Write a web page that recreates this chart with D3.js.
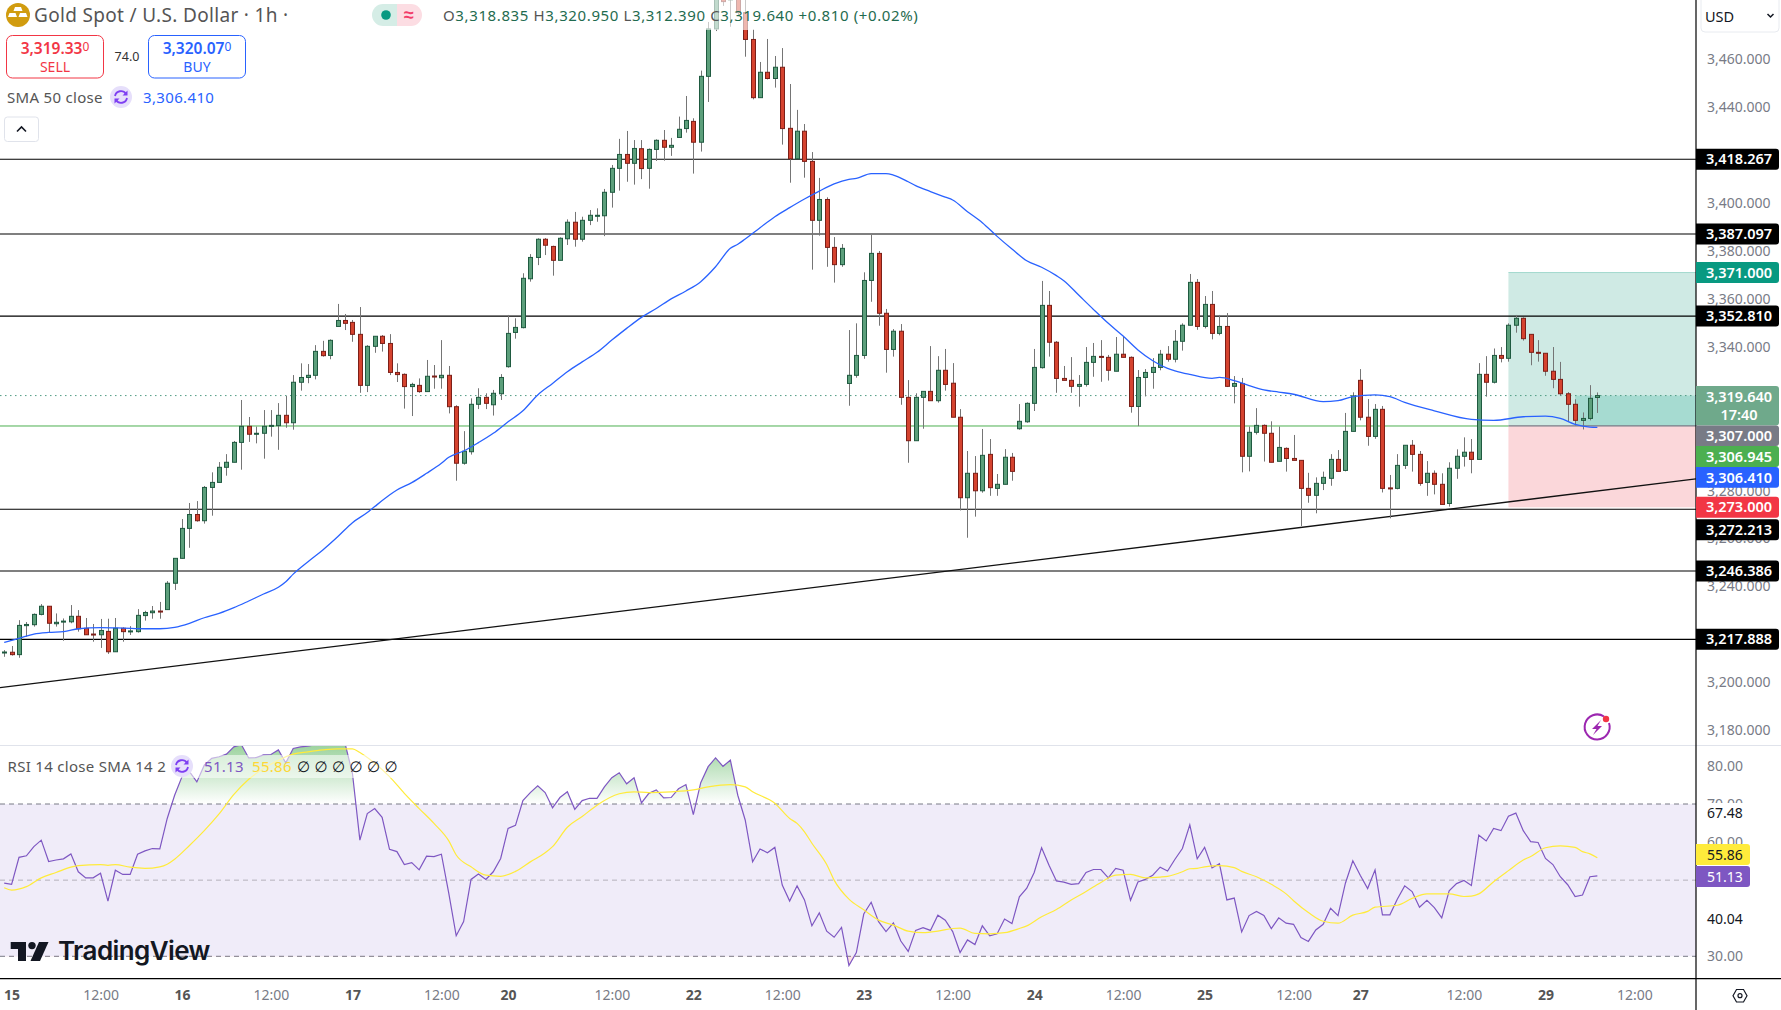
<!DOCTYPE html>
<html>
<head>
<meta charset="utf-8">
<script src="https://cdn.jsdelivr.net/npm/d3@7"></script>
<style>
  html, body { margin: 0; padding: 0; background: #fff; }
  svg { display: block; }
  text { font-family: "Noto Sans", sans-serif; }
</style>
</head>
<body>
<div id="chart"></div>
<script>
// hourly bars
const opens = [
3212.3,3212.5,3211.5,3223.6,3224.0,3228.3,3231.7,3224.4,3225.2,3225.2,
3227.5,3222.5,3220.1,3219.8,3221.2,3212.7,3222.5,3221.1,3221.1,3227.8,
3229.0,3229.7,3230.3,3241.3,3251.7,3264.2,3270.0,3267.4,3281.3,3283.4,
3289.7,3291.8,3300.1,3306.8,3303.5,3303.9,3306.8,3307.1,3311.4,3308.3,
3325.2,3327.2,3328.1,3338.1,3336.4,3348.5,3351.0,3350.2,3345.2,3323.9,
3340.2,3344.4,3341.4,3329.3,3328.5,3323.4,3323.9,3321.3,3327.8,3327.1,
3328.1,3315.0,3291.4,3296.2,3316.0,3318.9,3315.8,3320.4,3331.7,3346.0,
3348.0,3368.4,3377.3,3384.9,3381.9,3376.1,3385.1,3392.0,3384.9,3392.8,
3394.6,3394.7,3404.5,3414.5,3420.3,3416.6,3422.7,3414.5,3422.4,3426.2,
3423.3,3427.4,3431.1,3434.1,3425.4,3452.9,3472.7,3485.6,3484.8,3485.6,
3479.5,3468.3,3444.0,3454.6,3452.0,3456.7,3431.2,3418.5,3430.0,3417.4,
3392.8,3401.5,3381.5,3374.3,3324.7,3328.1,3336.4,3367.7,3379.0,3354.0,
3338.9,3346.5,3318.9,3300.8,3318.9,3321.4,3317.5,3330.2,3324.8,3310.6,
3277.0,3287.2,3279.9,3295.1,3280.9,3282.6,3293.9,3305.8,3308.7,3316.4,
3331.3,3357.3,3341.9,3326.8,3326.0,3323.5,3324.3,3333.5,3336.0,3335.6,
3329.8,3336.9,3335.6,3315.1,3327.2,3329.3,3331.4,3336.9,3334.8,3342.3,
3349.0,3366.9,3348.5,3357.7,3345.6,3348.5,3323.5,3324.7,3294.3,3304.3,
3307.2,3303.9,3292.2,3297.6,3293.4,3292.6,3280.9,3278.0,3283.0,3285.1,
3293.0,3288.4,3304.7,3326.0,3310.6,3302.6,3313.9,3281.1,3280.9,3290.5,
3298.9,3295.1,3283.4,3287.2,3282.6,3274.6,3289.3,3294.3,3296.0,3293.0,
3328.5,3325.2,3336.4,3335.2,3349.0,3351.9,3345.2,3337.7,3337.3,3329.8,
3326.4,3320.4,3316.0,3309.3,3310.1,3318.835];
const highs = [
3213.4,3215.1,3225.9,3225.1,3228.7,3232.6,3231.8,3228.7,3226.6,3232.2,
3230.1,3226.8,3224.3,3226.4,3226.5,3226.8,3222.9,3223.4,3230.5,3229.8,
3231.8,3233.5,3242.2,3251.7,3268.1,3274.8,3275.6,3281.9,3287.6,3291.9,
3295.2,3300.7,3317.8,3310.7,3306.7,3313.6,3313.6,3316.5,3319.5,3328.2,
3333.1,3332.8,3340.7,3342.5,3343.1,3357.9,3353.7,3351.2,3356.6,3340.7,
3344.4,3344.9,3345.3,3333.1,3328.9,3325.0,3326.8,3334.5,3332.4,3342.8,
3332.0,3315.6,3304.8,3318.5,3322.7,3320.6,3322.0,3328.6,3353.3,3351.9,
3370.7,3378.7,3385.3,3385.4,3382.2,3385.7,3393.2,3396.3,3394.3,3397.1,
3397.8,3405.9,3415.9,3426.8,3430.1,3426.3,3426.3,3422.8,3426.6,3430.5,
3427.2,3436.1,3444.7,3435.4,3455.3,3475.6,3489.0,3488.2,3489.0,3487.5,
3484.8,3472.5,3458.9,3468.5,3461.4,3464.7,3449.7,3438.9,3433.0,3421.3,
3410.5,3402.4,3385.8,3382.9,3347.0,3349.8,3371.1,3386.7,3380.0,3355.8,
3347.4,3349.5,3326.1,3320.6,3321.4,3340.3,3336.1,3339.1,3333.2,3314.0,
3296.5,3294.4,3305.7,3301.5,3286.9,3297.3,3295.7,3316.1,3316.8,3339.1,
3367.5,3363.3,3342.4,3332.0,3335.7,3328.2,3339.9,3341.6,3342.8,3336.6,
3344.1,3344.5,3336.0,3330.3,3330.7,3335.3,3338.7,3340.3,3347.0,3349.8,
3370.4,3368.3,3361.2,3363.3,3353.3,3354.1,3327.8,3327.0,3306.7,3314.4,
3307.6,3308.9,3306.7,3298.0,3303.2,3292.6,3287.4,3285.5,3287.9,3295.2,
3296.9,3312.4,3321.0,3330.7,3318.2,3316.1,3315.3,3286.5,3295.2,3298.9,
3301.1,3296.5,3292.3,3288.4,3287.2,3291.8,3297.2,3302.2,3301.5,3333.2,
3336.1,3339.3,3339.9,3349.8,3353.3,3352.3,3345.2,3342.8,3337.3,3339.9,
3333.7,3321.1,3318.1,3312.6,3324.0,3320.95];
const lows = [
3210.6,3211.1,3210.2,3219.0,3223.2,3227.9,3220.9,3223.2,3217.3,3224.6,
3221.1,3219.7,3216.9,3214.3,3211.8,3212.7,3216.9,3219.7,3220.7,3225.7,
3226.5,3226.5,3230.3,3238.5,3251.6,3256.1,3267.0,3266.2,3269.5,3283.4,
3286.2,3291.8,3288.7,3300.3,3299.7,3293.3,3302.5,3297.0,3306.2,3305.4,
3321.7,3324.8,3326.4,3335.9,3334.8,3348.5,3347.0,3342.1,3320.8,3321.1,
3337.5,3338.0,3328.2,3325.3,3314.2,3311.1,3320.8,3321.3,3322.5,3322.5,
3312.2,3284.1,3290.8,3295.0,3314.0,3314.0,3311.3,3317.8,3331.3,3343.4,
3347.7,3367.2,3374.1,3378.3,3369.7,3376.1,3382.5,3381.8,3383.9,3390.8,
3392.2,3386.2,3398.1,3405.2,3408.9,3407.7,3410.0,3406.0,3417.6,3417.7,
3419.7,3427.4,3429.4,3412.3,3421.5,3442.2,3471.8,3482.3,3473.6,3478.5,
3461.1,3443.3,3444.0,3451.6,3448.2,3424.4,3408.5,3418.5,3410.6,3372.2,
3386.4,3373.4,3366.8,3373.4,3315.4,3327.1,3335.0,3358.8,3348.8,3329.2,
3335.9,3315.8,3291.6,3300.8,3305.8,3317.5,3316.7,3321.7,3310.6,3271.7,
3260.3,3269.1,3279.1,3277.8,3277.8,3282.6,3284.1,3305.4,3308.3,3313.2,
3330.9,3335.9,3320.8,3326.0,3320.8,3315.0,3323.4,3327.5,3325.4,3325.9,
3329.8,3335.6,3312.5,3306.9,3319.3,3322.5,3330.2,3333.8,3333.5,3338.4,
3349.0,3347.1,3347.7,3343.1,3344.8,3323.2,3316.4,3287.6,3288.0,3303.4,
3292.1,3291.8,3292.2,3287.9,3292.6,3265.2,3274.9,3270.5,3280.2,3282.0,
3288.0,3288.0,3304.7,3309.3,3298.7,3301.6,3279.2,3268.4,3280.5,3289.0,
3287.9,3282.0,3277.8,3278.4,3274.2,3273.3,3284.9,3290.0,3287.2,3293.0,
3319.2,3324.7,3333.5,3333.8,3345.9,3342.6,3332.3,3333.8,3327.9,3322.7,
3319.6,3308.6,3307.2,3305.5,3309.3,3312.39];
const closes = [
3212.6,3211.5,3223.7,3224.1,3228.3,3231.7,3224.6,3225.0,3225.5,3227.5,
3222.3,3219.8,3219.8,3221.6,3212.7,3222.5,3221.1,3221.4,3227.9,3229.1,
3229.7,3229.4,3241.3,3251.7,3264.2,3270.0,3267.4,3281.3,3283.4,3289.7,
3291.8,3300.1,3306.8,3303.5,3303.9,3306.8,3307.2,3311.4,3308.3,3325.2,
3327.2,3328.1,3338.1,3336.3,3342.7,3351.0,3349.8,3345.2,3323.9,3340.2,
3344.4,3341.4,3329.3,3328.4,3323.4,3324.3,3321.3,3327.7,3327.5,3328.1,
3315.0,3291.4,3296.4,3316.0,3318.9,3316.4,3320.6,3327.2,3345.6,3348.1,
3368.6,3377.3,3384.9,3382.4,3376.1,3385.3,3392.0,3384.9,3392.8,3394.9,
3394.9,3404.5,3414.5,3420.3,3416.6,3422.8,3414.4,3422.4,3426.2,3423.3,
3424.1,3430.8,3434.5,3425.4,3452.9,3472.7,3486.9,3484.1,3485.5,3479.5,
3468.3,3444.0,3454.6,3452.0,3456.7,3431.1,3418.5,3430.0,3417.4,3392.8,
3401.5,3381.5,3374.3,3381.1,3328.1,3336.4,3367.7,3379.0,3354.0,3338.9,
3346.5,3318.9,3300.8,3318.9,3321.4,3317.5,3330.2,3324.3,3310.6,3277.0,
3287.2,3279.9,3294.7,3281.2,3282.6,3293.9,3288.0,3308.9,3316.4,3331.4,
3357.3,3341.9,3326.8,3326.0,3323.5,3324.3,3333.5,3336.0,3335.9,3330.2,
3336.9,3335.6,3315.1,3327.2,3329.3,3331.4,3336.9,3334.8,3342.3,3349.0,
3366.9,3348.5,3357.7,3345.6,3348.5,3323.5,3324.7,3294.3,3304.3,3307.2,
3303.9,3291.8,3298.0,3293.4,3292.6,3280.9,3278.0,3283.0,3285.5,3293.0,
3288.0,3304.7,3319.5,3310.6,3302.6,3313.9,3280.9,3280.8,3290.5,3298.9,
3295.1,3283.0,3287.2,3282.6,3274.2,3289.3,3294.3,3296.0,3293.0,3328.5,
3325.2,3336.4,3335.2,3349.0,3351.9,3343.4,3337.7,3337.5,3329.8,3326.4,
3320.4,3316.0,3309.3,3310.1,3318.5,3319.64];

// SMA 50, read at these bars
const smaBars = [0,2,4,6,8,10,13,16,19,21,23,25,27,29,31,33,35,37,38,39,41,43,45,47,49,50,52,53,55,57,59,60,62,64,66,68,70,72,74,76,
78,80,82,84,86,88,90,92,94,96,98,99,100,102,104,106,108,110,112,114,115,117,119,120,122,123,125,127,128,130,132,134,136,138,140,142,143,145,147,149,151,153,155,157,158,
160,163,164,166,168,170,172,174,178,180,182,185,187,189,193,198,201,205,208,210,212,214,215];
const smaVals = [3216.6,3218.3,3220.1,3220.8,3221.1,3222.3,3222.8,3222.6,3222.3,3222.3,3222.9,3224.6,3226.9,3228.7,3231.1,3233.9,3236.8,3239.6,3241.9,3245.1,3250.3,3255.2,3260.7,3266.6,3270.8,3273.3,3278.1,3280.2,3283.3,3287.2,3291.4,3293.9,3296.5,3300.0,3303.9,3308.7,3313.3,3319.9,3324.7,3329.6,
3333.7,3337.7,3342.8,3347.7,3352.3,3356.0,3360.0,3363.3,3367.2,3373.4,3381.1,3382.8,3385.0,3389.7,3394.3,3398.1,3401.7,3405.0,3408.0,3409.9,3410.3,3412.3,3412.3,3411.7,3408.9,3407.3,3404.8,3402.5,3401.3,3396.4,3391.8,3386.1,3380.8,3375.9,3373.2,3369.7,3367.6,3361.6,3355.6,3349.8,3344.5,3338.7,3334.2,3331.0,3330.0,
3328.5,3326.8,3327.2,3325.9,3323.8,3322.0,3321.1,3320.2,3317.1,3317.5,3319.2,3319.9,3319.2,3316.8,3313.3,3309.7,3309.3,3310.8,3311.1,3310.1,3307.6,3306.5,3306.41];

// RSI 14, one value per bar
const rsiVals = [
49.2,48.9,56.0,56.4,58.8,60.5,54.9,55.3,55.6,56.9,
52.2,50.6,50.6,51.8,44.5,52.6,51.5,51.5,56.8,57.7,
58.3,58.2,66.2,72.3,77.2,78.5,75.8,80.2,82.0,82.4,
83.1,85.0,85.6,82.1,82.2,82.9,83.0,84.2,80.8,84.6,
85.0,85.2,85.6,86.2,86.8,86.4,85.9,78.0,60.5,67.5,
68.8,66.5,58.1,57.5,54.1,54.6,52.7,56.3,56.2,56.8,
46.5,35.4,39.1,50.2,51.6,50.2,52.2,55.7,63.6,64.4,
70.9,73.0,74.8,73.0,69.0,71.7,73.2,68.6,70.9,71.5,
71.5,74.5,76.9,78.2,75.3,76.9,70.3,72.8,73.7,71.6,
71.7,74.0,75.1,67.2,75.6,79.8,82.1,79.9,81.5,72.3,
65.8,54.8,58.2,57.2,58.6,48.7,44.5,48.5,44.8,38.0,
41.4,36.6,35.0,37.6,27.6,31.0,41.1,44.2,39.1,36.5,
38.8,34.0,31.3,36.8,37.5,36.8,40.8,39.5,36.5,31.0,
34.3,33.1,38.0,35.4,35.9,39.8,38.6,45.6,47.9,52.0,
58.5,53.9,49.8,49.5,48.9,49.1,52.0,52.8,52.8,50.6,
53.1,52.6,44.7,49.5,50.2,51.3,53.4,52.4,55.5,58.3,
64.5,55.6,58.6,53.2,54.3,44.8,45.3,36.4,40.7,41.8,
40.7,37.3,40.1,38.7,38.4,34.9,33.9,36.9,38.4,42.6,
40.7,49.2,55.1,51.3,47.8,52.7,40.9,40.9,45.0,48.5,
47.0,42.9,44.7,42.8,40.1,47.2,49.1,49.9,48.6,61.8,
60.3,63.6,63.0,66.8,67.6,63.0,60.1,59.9,55.7,54.1,
50.9,48.8,45.7,46.1,50.9,51.13];

// SMA of RSI, read at these bars
const rsiSmaBars = [0,1,3,5,7,9,10,13,14,15,17,19,21,22,23,25,27,29,31,33,35,37,39,41,43,45,47,48,50,52,54,56,58,60,61,63,65,67,69,71,73,74,76,78,80,
83,85,87,90,93,95,98,100,101,104,106,107,108,109,111,112,114,116,118,120,122,124,126,128,129,131,133,135,137,138,140,142,144,146,148,150,152,154,156,157,159,160,
161,162,164,166,167,169,171,173,174,176,178,180,182,184,185,188,190,192,195,197,198,199,201,203,205,206,208,210,212,213,214,215];
const rsiSmaVals = [48.0,47.4,48.3,50.6,52.0,53.4,53.8,54.1,53.9,54.1,53.4,53.1,53.5,54.2,55.5,59.1,63.0,67.4,72.5,76.5,79.3,81.5,83.1,83.7,84.2,84.5,84.5,83.5,80.7,77.2,72.8,68.8,64.9,60.3,56.6,53.5,51.3,51.0,52.3,54.8,57.2,58.8,63.9,66.7,69.7,
72.7,73.2,73.0,73.2,73.7,74.5,75.1,74.5,73.2,70.2,66.2,64.9,62.7,59.7,54.1,50.0,45.0,42.2,39.5,38.2,36.6,36.2,36.6,37.3,37.4,36.0,35.9,36.2,37.3,38.0,40.4,42.3,44.8,47.0,49.4,51.3,51.5,50.6,50.8,51.0,52.2,53.0,
53.1,53.5,53.8,53.3,52.3,50.9,48.9,46.4,44.6,41.5,39.2,38.7,40.8,41.8,42.9,43.4,45.2,46.4,46.4,45.7,45.8,46.4,49.6,52.5,55.3,56.2,58.5,59.0,58.6,57.5,56.9,55.86];

// 3,420 3,320 3,300 and 3,220 are fully under badges in the picture, so they are left out
const priceTicks = [3460,3440,3400,3380,3360,3340,3280,3260,3240,3200,3180];
const levelLines = [3418.267,3387.097,3352.81,3272.213,3246.386,3217.888];
const trendBars = [-0.57,228.3];
const trendPrices = [3197.7,3284.9];
const positionPrices = [3371,3307,3273];
const positionBars = [203,212];
const lastPrice = 3319.64;
const smaLast = 3306.41;
const avgEntry = 3306.945;

const rsiTicks = [80,70,60,30];
const rsiMarks = [67.48,40.04];
const rsiBands = [70,50,30];

const timeTickBars = [1,13,24,36,47,59,68,82,93,105,116,128,139,151,162,174,183,197,208,220];
const timeTickLabels = ["15","12:00","16","12:00","17","12:00","20","12:00","22","12:00","23","12:00","24","12:00","25","12:00","27","12:00","29","12:00"];

const W = 1781, H = 1010;
const axisX = 1696, paneSplit = 745.5, timeY = 978.7;

const svg = d3.select("#chart").append("svg").attr("width", W).attr("height", H);
const defs = svg.append("defs");

const x = d3.scaleLinear().domain([0, 215]).range([4.2, 1597.35]);
const y = d3.scaleLinear().domain([3484.77, 3180]).range([0, 730.1]);
const rsiY = d3.scaleLinear().domain([30, 70]).range([956.3, 804]);

defs.append("clipPath").attr("id", "mainClip").append("rect").attr("width", axisX).attr("height", paneSplit);
defs.append("clipPath").attr("id", "rsiClip").append("rect").attr("y", paneSplit).attr("width", axisX).attr("height", timeY - paneSplit);
defs.append("clipPath").attr("id", "obClip").append("rect").attr("y", paneSplit).attr("width", axisX).attr("height", rsiY(70) - paneSplit);
defs.append("clipPath").attr("id", "osClip").append("rect").attr("y", rsiY(30)).attr("width", axisX).attr("height", timeY - rsiY(30));

const obGrad = defs.append("linearGradient").attr("id", "obGrad").attr("gradientUnits", "userSpaceOnUse")
    .attr("x1", 0).attr("x2", 0).attr("y1", paneSplit).attr("y2", rsiY(70));
obGrad.append("stop").attr("offset", 0).attr("stop-color", "#4caf50").attr("stop-opacity", 0.55);
obGrad.append("stop").attr("offset", 1).attr("stop-color", "#4caf50").attr("stop-opacity", 0);

const main = svg.append("g").attr("clip-path", "url(#mainClip)");

// long position box
const posLeft = x(positionBars[0]);
main.append("rect").attr("x", posLeft).attr("y", y(positionPrices[0])).attr("width", axisX - posLeft)
    .attr("height", y(positionPrices[1]) - y(positionPrices[0])).attr("fill", "#cfeae4");
main.append("rect").attr("x", posLeft).attr("y", y(positionPrices[1])).attr("width", axisX - posLeft)
    .attr("height", y(positionPrices[2]) - y(positionPrices[1])).attr("fill", "#fbd7da");
main.append("rect").attr("x", x(positionBars[1])).attr("y", y(lastPrice)).attr("width", axisX - x(positionBars[1]))
    .attr("height", y(positionPrices[1]) - y(lastPrice)).attr("fill", "#a6dbd1");
main.append("line").attr("x1", posLeft).attr("x2", axisX).attr("y1", y(positionPrices[0])).attr("y2", y(positionPrices[0]))
    .attr("stroke", "#a3d9ce");

// level lines
main.selectAll(".level").data(levelLines).enter().append("line")
    .attr("x1", 0).attr("x2", axisX)
    .attr("y1", function(d) { return y(d); })
    .attr("y2", function(d) { return y(d); })
    .attr("stroke", "#000").attr("stroke-width", 1.1);
main.append("line").attr("x1", 0).attr("x2", posLeft).attr("y1", y(avgEntry)).attr("y2", y(avgEntry))
    .attr("stroke", "#4caf50").attr("stroke-width", 1);
main.append("line").attr("x1", posLeft).attr("x2", axisX).attr("y1", y(positionPrices[1])).attr("y2", y(positionPrices[1]))
    .attr("stroke", "#787b86").attr("stroke-width", 1.2);
main.append("line").attr("x1", 0).attr("x2", axisX).attr("y1", y(lastPrice)).attr("y2", y(lastPrice))
    .attr("stroke", "#4f9c83").attr("stroke-width", 1).attr("stroke-dasharray", "1.5 3.5");

// trend line
main.append("line").attr("x1", x(trendBars[0])).attr("x2", x(trendBars[1]))
    .attr("y1", y(trendPrices[0])).attr("y2", y(trendPrices[1]))
    .attr("stroke", "#111").attr("stroke-width", 1.3);

// candles
const bars = d3.range(opens.length);
const candle = main.selectAll(".candle").data(bars).enter().append("g");
candle.append("line")
    .attr("x1", function(i) { return Math.round(x(i)) + 0.5; })
    .attr("x2", function(i) { return Math.round(x(i)) + 0.5; })
    .attr("y1", function(i) { return y(highs[i]); })
    .attr("y2", function(i) { return y(lows[i]); })
    .attr("stroke", "#757575").attr("stroke-width", 1);
candle.append("rect")
    .attr("x", function(i) { return Math.round(x(i)) - 1.5; })
    .attr("width", 4)
    .attr("y", function(i) { return y(Math.max(opens[i], closes[i])); })
    .attr("height", function(i) { return Math.max(1, Math.abs(y(opens[i]) - y(closes[i]))); })
    .attr("fill", function(i) { return closes[i] >= opens[i] ? "#5c9f7b" : "#d5432f"; })
    .attr("stroke", function(i) { return closes[i] >= opens[i] ? "#1f5a40" : "#7c1f18"; })
    .attr("stroke-width", 1);

// SMA 50
main.append("path")
    .attr("d", d3.line().x(function(d) { return x(d); })
        .y(function(d, i) { return y(smaVals[i]); })
        .curve(d3.curveMonotoneX)(smaBars))
    .attr("fill", "none").attr("stroke", "#2962ff").attr("stroke-width", 1.3);

// translucent legend strip
svg.append("rect").attr("x", 0).attr("y", 0).attr("width", 930).attr("height", 30).attr("fill", "#fff").attr("opacity", 0.62);

// RSI pane
const rsiPane = svg.append("g").attr("clip-path", "url(#rsiClip)");
rsiPane.append("rect").attr("x", 0).attr("width", axisX).attr("y", rsiY(70)).attr("height", rsiY(30) - rsiY(70)).attr("fill", "#f0ecf9");
rsiPane.selectAll(".band").data(rsiBands).enter().append("line")
    .attr("x1", 0).attr("x2", axisX)
    .attr("y1", function(d) { return rsiY(d); })
    .attr("y2", function(d) { return rsiY(d); })
    .attr("stroke", function(d) { return d === 50 ? "#b4b1bb" : "#787b86"; })
    .attr("stroke-width", 1).attr("stroke-dasharray", "5 4");

const obArea = d3.area().x(function(i) { return x(i); }).y0(rsiY(70)).y1(function(i) { return rsiY(rsiVals[i]); });
rsiPane.append("path").attr("clip-path", "url(#obClip)").attr("d", obArea(bars)).attr("fill", "url(#obGrad)");
rsiPane.append("path").attr("clip-path", "url(#osClip)")
    .attr("d", d3.area().x(function(i) { return x(i); }).y0(rsiY(30)).y1(function(i) { return rsiY(rsiVals[i]); })(bars))
    .attr("fill", "#f23645").attr("opacity", 0.15);

rsiPane.append("path")
    .attr("d", d3.line().x(function(i) { return x(i); }).y(function(i) { return rsiY(rsiVals[i]); })(bars))
    .attr("fill", "none").attr("stroke", "#7e57c2").attr("stroke-width", 1.2);
rsiPane.append("path")
    .attr("d", d3.line().x(function(d) { return x(d); }).y(function(d, i) { return rsiY(rsiSmaVals[i]); })
        .curve(d3.curveMonotoneX)(rsiSmaBars))
    .attr("fill", "none").attr("stroke", "#ffeb3b").attr("stroke-width", 1.2);

svg.append("rect").attr("x", 0).attr("y", 755).attr("width", 400).attr("height", 23).attr("fill", "#fff").attr("opacity", 0.55);

// TradingView mark
const logo = svg.append("g").attr("fill", "#131722");
logo.append("path").attr("d", "M10.7 942H26V961H18V949H10.7Z");
logo.append("circle").attr("cx", 32).attr("cy", 945.6).attr("r", 3.7);
logo.append("path").attr("d", "M39 942H48.5L40 961H30.5Z");
logo.append("text").attr("x", 58).attr("y", 960).attr("font-size", 26).attr("font-weight", 600)
    .style("font-family", "Inter").style("letter-spacing", "-0.6px").text("TradingView");

// price axis
const priceAxis = svg.append("g").attr("transform", "translate(" + (axisX + 11) + ",0)")
    .call(d3.axisRight(y).tickValues(priceTicks).tickFormat(d3.format(",.3f")).tickSize(0).tickPadding(0));
priceAxis.select(".domain").remove();
priceAxis.selectAll("text").attr("font-size", 14).attr("fill", "#787b86").style("font-family", "Noto Sans");

// rsi axis
const rsiAxis = svg.append("g").attr("transform", "translate(1725,0)")
    .call(d3.axisRight(rsiY).tickValues(rsiTicks).tickFormat(d3.format(".2f")).tickSize(0).tickPadding(0));
rsiAxis.select(".domain").remove();
rsiAxis.selectAll("text").attr("font-size", 14).attr("fill", "#787b86").attr("text-anchor", "middle").style("font-family", "Noto Sans");

// time axis
const timeAxis = svg.append("g").attr("transform", "translate(0," + timeY + ")")
    .call(d3.axisBottom(x).tickValues(timeTickBars).tickFormat(function(d, i) { return timeTickLabels[i]; }).tickSize(0).tickPadding(11));
timeAxis.select(".domain").remove();
timeAxis.selectAll("text").attr("font-size", 14).style("font-family", "Noto Sans")
    .attr("font-weight", function(d, i) { return timeTickLabels[i] === "12:00" ? 400 : 700; })
    .attr("fill", function(d, i) { return timeTickLabels[i] === "12:00" ? "#787b86" : "#555"; });

// frame lines
svg.append("line").attr("x1", 0).attr("x2", W).attr("y1", paneSplit).attr("y2", paneSplit).attr("stroke", "#e0e3eb").attr("stroke-width", 1);
svg.append("line").attr("x1", 0).attr("x2", W).attr("y1", timeY).attr("y2", timeY).attr("stroke", "#000").attr("stroke-width", 1.2);
svg.append("line").attr("x1", axisX).attr("x2", axisX).attr("y1", 0).attr("y2", H).attr("stroke", "#000").attr("stroke-width", 1.2);

// price badges
function badge(top, h, lines, fill) {
    svg.append("path").attr("d", "M" + axisX + " " + top + "H1776a3 3 0 0 1 3 3V" + (top + h - 3) + "a3 3 0 0 1 -3 3H" + axisX + "Z").attr("fill", fill);
    lines.forEach(function(t, i) {
        svg.append("text").attr("x", 1739).attr("y", top + 15.5 + i * 18).attr("text-anchor", "middle")
            .attr("font-size", 14.5).attr("font-weight", 600).attr("fill", "#fff").text(t);
    });
}
function atPrice(price, fill) {
    badge(y(price) - 10.5, 21, [d3.format(",.3f")(price)], fill);
}
[3418.267,3387.097,3352.81,3246.386,3217.888].forEach(function(d) { atPrice(d, "#000"); });
atPrice(positionPrices[0], "#089981");
atPrice(positionPrices[2], "#f23645");
// the rest are pushed down into a stack so they do not cover each other
badge(386, 39.5, ["3,319.640", "17:40"], "#6fa98b");
badge(425.5, 20.5, ["3,307.000"], "#787b86");
badge(446, 21, ["3,306.945"], "#4caf50");
badge(467, 20.7, [d3.format(",.3f")(smaLast)], "#2962ff");
badge(519.3, 21, ["3,272.213"], "#000");

// rsi badges
function rsiBadge(top, label, fill, color) {
    svg.append("path").attr("d", "M" + axisX + " " + top + "H1747a3 3 0 0 1 3 3V" + (top + 18) + "a3 3 0 0 1 -3 3H" + axisX + "Z").attr("fill", fill);
    svg.append("text").attr("x", 1725).attr("y", top + 15.5).attr("text-anchor", "middle").attr("font-size", 14).attr("fill", color).text(label);
}
rsiBadge(844, "55.86", "#ffeb3b", "#131722");
rsiBadge(866, "51.13", "#7e57c2", "#fff");
rsiMarks.forEach(function(d) {
    const cy = d === 67.48 ? 813 : 919;
    svg.append("rect").attr("x", axisX + 1).attr("y", cy - 10).attr("width", 60).attr("height", 20).attr("fill", "#fff");
    svg.append("text").attr("x", 1725).attr("y", cy + 5).attr("text-anchor", "middle").attr("font-size", 14).attr("fill", "#131722").text(d.toFixed(2));
});

// top left legend
const legend = svg.append("g");
legend.append("circle").attr("cx", 18).attr("cy", 15).attr("r", 12).attr("fill", "#d19c0f");
legend.append("path").attr("d", "M15 7h6l1.5 4h-9ZM9.5 13h6l1.5 4H8ZM20 13h6l1.5 4H18.500Z").attr("fill", "#fff");
legend.append("text").attr("x", 34).attr("y", 22).attr("font-size", 19).attr("fill", "#555").style("letter-spacing", "0.33px").text("Gold Spot / U.S. Dollar · 1h ·");

legend.append("path").attr("d", "M397 4H383a11 11 0 0 0 0 22H397Z").attr("fill", "#d5ede6");
legend.append("path").attr("d", "M397 4H411a11 11 0 0 1 0 22H397Z").attr("fill", "#fcdde3");
legend.append("circle").attr("cx", 386).attr("cy", 15).attr("r", 4.8).attr("fill", "#089981");
legend.append("text").attr("x", 409).attr("y", 21).attr("text-anchor", "middle").attr("font-size", 18).attr("font-weight", 700).attr("fill", "#f23d6a").text("≈");

const ohlc = legend.append("text").attr("x", 443).attr("y", 20.5).attr("font-size", 15).style("letter-spacing", "0.62px");
[["O","3,318.835"],["H","3,320.950"],["L","3,312.390"],["C","3,319.640"]].forEach(function(p, i) {
    ohlc.append("tspan").attr("fill", "#555").text((i ? " " : "") + p[0]);
    ohlc.append("tspan").attr("fill", "#1f6b4f").text(p[1]);
});
ohlc.append("tspan").attr("fill", "#1f6b4f").text(" +0.810 (+0.02%)");

function quoteBox(x0, priceText, sub, word, color) {
    legend.append("rect").attr("x", x0).attr("y", 35.5).attr("width", 97).attr("height", 42.5).attr("rx", 6)
        .attr("fill", "#fff").attr("stroke", color).attr("stroke-width", 1);
    const t = legend.append("text").attr("x", x0 + 48.5).attr("y", 54).attr("text-anchor", "middle").attr("font-size", 15.5).attr("font-weight", 600).attr("fill", color);
    t.append("tspan").text(priceText);
    t.append("tspan").attr("font-size", 12).attr("font-weight", 400).attr("dy", -3).text(sub);
    legend.append("text").attr("x", x0 + 48.5).attr("y", 71.5).attr("text-anchor", "middle").attr("font-size", 14).attr("fill", color).text(word);
}
quoteBox(6.5, "3,319.33", "0", "SELL", "#f23645");
quoteBox(148.5, "3,320.07", "0", "BUY", "#2962ff");
legend.append("text").attr("x", 127).attr("y", 60.5).attr("text-anchor", "middle").attr("font-size", 12.5).attr("fill", "#333").text("74.0");

function syncIcon(cx, cy) {
    const g = legend.append("g").attr("transform", "translate(" + cx + "," + cy + ")");
    g.append("circle").attr("r", 11).attr("fill", "#e6dffb");
    g.append("path").attr("d", "M-6 -1A6 6 0 0 1 5 -3M6 1A6 6 0 0 1 -5 3").attr("fill", "none").attr("stroke", "#7e3ff2").attr("stroke-width", 1.8);
    g.append("path").attr("d", "M6.500 -6.500V-1.500H1.500ZM-6.500 6.500V1.500H-1.500Z").attr("fill", "#7e3ff2");
}
legend.append("text").attr("x", 7).attr("y", 102.5).attr("font-size", 15).style("letter-spacing", "0.3px").attr("fill", "#555").text("SMA 50 close");
syncIcon(121, 97);
legend.append("text").attr("x", 143).attr("y", 102.5).attr("font-size", 15).style("letter-spacing", "0.35px").attr("fill", "#2962ff").text("3,306.410");

legend.append("rect").attr("x", 4.5).attr("y", 117).attr("width", 34).attr("height", 24.5).attr("rx", 3).attr("fill", "#fff").attr("stroke", "#e0e3eb");
legend.append("path").attr("d", "M17 131.500L21.500 127L26 131.500").attr("fill", "none").attr("stroke", "#131722").attr("stroke-width", 1.6);

// rsi legend
legend.append("text").attr("x", 7.5).attr("y", 771.5).attr("font-size", 15).style("letter-spacing", "0.3px").attr("fill", "#555").text("RSI 14 close SMA 14 2");
syncIcon(182, 766);
legend.append("text").attr("x", 204).attr("y", 771.5).attr("font-size", 15).style("letter-spacing", "0.3px").attr("fill", "#7e57c2").text("51.13");
legend.append("text").attr("x", 252).attr("y", 771.5).attr("font-size", 15).style("letter-spacing", "0.3px").attr("fill", "#fdd835").text("55.86");
d3.range(6).forEach(function(i) {
    legend.append("text").attr("x", 303.5 + i * 17.5).attr("y", 771.5).attr("text-anchor", "middle").attr("font-size", 15)
        .style("font-family", "DejaVu Sans").attr("fill", "#131722").text("∅");
});

// USD box
legend.append("path").attr("d", "M1701 0V28a4 4 0 0 0 4 4H1775a4 4 0 0 0 4 -4V0").attr("fill", "#fff").attr("stroke", "#e8ebf0");
legend.append("text").attr("x", 1705).attr("y", 21.5).attr("font-size", 14.5).attr("fill", "#131722").text("USD");
legend.append("path").attr("d", "M1767.500 14L1770.500 17L1773.500 14").attr("fill", "none").attr("stroke", "#131722").attr("stroke-width", 1.5);

// lightning icon
legend.append("path").attr("d", "M1604 716.500A12.500 12.500 0 1 0 1609 723").attr("fill", "none").attr("stroke", "#9c27b0").attr("stroke-width", 2);
legend.append("path").attr("d", "M1601 720L1592 729H1596.500L1593 735L1602 726H1597.500Z").attr("fill", "#9c27b0");
legend.append("circle").attr("cx", 1606).attr("cy", 719).attr("r", 3.2).attr("fill", "#f23645");

// settings hexagon
legend.append("path").attr("d", "M1733 995.700L1736.500 989.500H1743.500L1747 995.700L1743.500 1002H1736.500Z").attr("fill", "none").attr("stroke", "#131722").attr("stroke-width", 1.2);
legend.append("circle").attr("cx", 1740).attr("cy", 995.7).attr("r", 2).attr("fill", "none").attr("stroke", "#131722").attr("stroke-width", 1.2);
</script>
</body>
</html>
